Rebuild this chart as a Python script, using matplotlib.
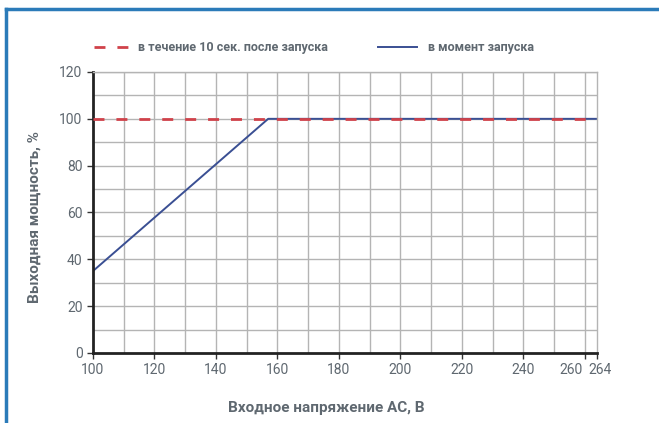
import matplotlib
matplotlib.use("Agg")
from matplotlib import pyplot as plt
from matplotlib.lines import Line2D
from matplotlib.transforms import ScaledTranslation

# data
volt_start = [100, 157, 264]
power_start = [35, 100, 100]
volt_10s = [100, 264]
power_10s = [100, 100]

x_ticks = [100, 120, 140, 160, 180, 200, 220, 240, 260, 264]
y_ticks = [0, 20, 40, 60, 80, 100, 120]
labels = ["в течение 10 сек. после запуска", "в момент запуска"]

plt.rcParams['font.family'] = ['Roboto', 'DejaVu Sans']

txt_color = "#5f6870"
red = "#d0424a"
blue = "#3a4f93"
grid_col = "#b4b4b4"
dash = (3.95, 4.3)  # ~11px on, 12px off at lw=2

fig = plt.figure(figsize=(6.59, 4.23), dpi=100)
ax = fig.add_axes([0.1411, 0.1655, 0.7649, 0.6643])

# grid every 10 units
for v in range(110, 270, 10):
    ax.axvline(v, color=grid_col, lw=1, zorder=0)
for p in range(10, 130, 10):
    ax.axhline(p, color=grid_col, lw=1, zorder=0)

ax.plot(volt_start, power_start, color=blue, lw=1.4, zorder=2)
ax.plot(volt_10s, power_10s, color=red, lw=2, dashes=dash, zorder=3)

ax.set_xlim(100, 264)
ax.set_ylim(0, 120)
ax.set_xticks(x_ticks)
ax.set_yticks(y_ticks)
ax.tick_params(labelsize=10, labelcolor=txt_color, color="#333333", length=4, width=1)
ax.tick_params(axis="x", pad=3)

# nudge the two crowded labels at the right end apart
xl = ax.get_xticklabels()
xl[-2].set_transform(xl[-2].get_transform() + ScaledTranslation(-14 / 100, 0, fig.dpi_scale_trans))
xl[-1].set_transform(xl[-1].get_transform() + ScaledTranslation(3 / 100, 0, fig.dpi_scale_trans))

for s in ["top", "right"]:
    ax.spines[s].set_color(grid_col)
    ax.spines[s].set_linewidth(1)
for s in ["left", "bottom"]:
    ax.spines[s].set_color("#222222")
    ax.spines[s].set_linewidth(2)

fig.text(0.053, 0.487, "Выходная мощность, %", rotation=90, ha="center", va="center",
         fontsize=11, fontweight="bold", color=txt_color)
fig.text(0.495, 0.035, "Входное напряжение AC, В", ha="center", va="center",
         fontsize=11, fontweight="bold", color=txt_color)

# legend row
ly = 1 - 47 / 423
fig.add_artist(Line2D([94 / 659, 128 / 659], [ly, ly], color=red, lw=2, dashes=dash,
                      transform=fig.transFigure))
fig.text(138 / 659, ly, labels[0], ha="left", va="center", fontsize=9,
         fontweight="bold", color=txt_color)
fig.add_artist(Line2D([378 / 659, 417 / 659], [ly, ly], color=blue, lw=1.4,
                      transform=fig.transFigure))
fig.text(428 / 659, ly, labels[1], ha="left", va="center", fontsize=9,
         fontweight="bold", color=txt_color)

# blue frame on left and top
frame_col = "#2b7bb9"
fig.add_artist(Line2D([0.0091, 0.0091], [0, 0.978], color=frame_col, lw=2.5,
                      transform=fig.transFigure))
fig.add_artist(Line2D([0.0091, 1], [0.978, 0.978], color=frame_col, lw=2.5,
                      transform=fig.transFigure))

fig.savefig("out.png", dpi=100)
